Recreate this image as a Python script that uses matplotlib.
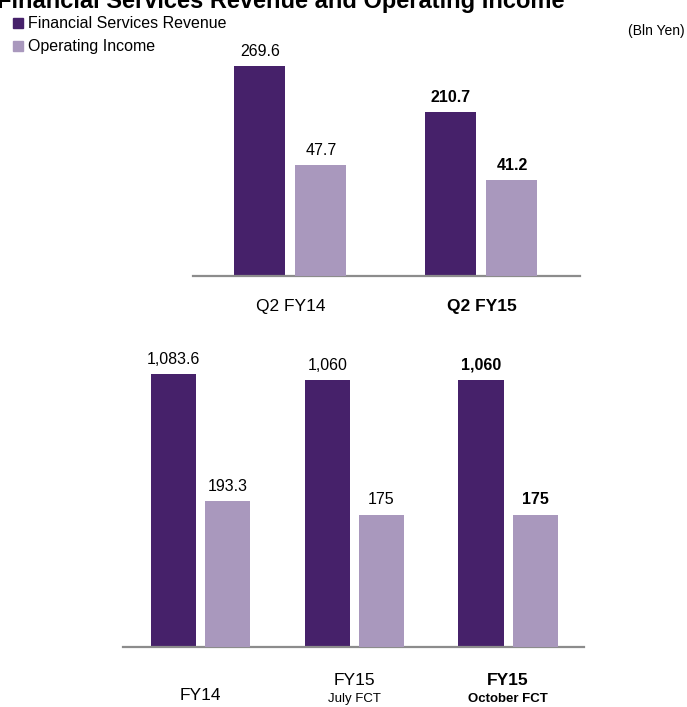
import numpy as np
import matplotlib
matplotlib.use("Agg")
import matplotlib.pyplot as plt

plt.rcParams['font.family'] = ['Liberation Sans', 'DejaVu Sans']

# quarterly figures (Bln Yen)
q_labels = ['Q2 FY14', 'Q2 FY15']
q_revenue = [269.6, 210.7]
q_income = [47.7, 41.2]
q_rev_text = ['269.6', '210.7']
q_inc_text = ['47.7', '41.2']
q_bold = [False, True]

# full-year figures (Bln Yen)
y_labels = ['FY14', 'FY15', 'FY15']
y_sublabels = ['', 'July FCT', 'October FCT']
y_revenue = [1083.6, 1060, 1060]
y_income = [193.3, 175, 175]
y_rev_text = ['1,083.6', '1,060', '1,060']
y_inc_text = ['193.3', '175', '175']
y_bold = [False, False, True]

dark = '#46216A'
light = '#A998BD'
line_col = '#8C8C8C'

W, H = 687, 707
fig = plt.figure(figsize=(W / 100, H / 100), dpi=100)


def px_axes(left, top, right, bottom):
    return fig.add_axes([left / W, 1 - bottom / H, (right - left) / W, (bottom - top) / H])


def bar_panel(ax, rev, inc, rev_txt, inc_txt, bold, off, width, rev_max, inc_max, xlim):
    x = np.arange(len(rev))
    ax2 = ax.twinx()
    ax.bar(x - off, rev, width, color=dark, zorder=2)
    ax2.bar(x + off, inc, width, color=light, zorder=2)
    ax.set_ylim(0, rev_max)
    ax2.set_ylim(0, inc_max)
    for a in (ax, ax2):
        a.set_xlim(*xlim)
        a.set_xticks([])
        a.set_yticks([])
        for s in a.spines.values():
            s.set_visible(False)
        a.patch.set_visible(False)
    ax.spines['bottom'].set_visible(True)
    ax.spines['bottom'].set_color(line_col)
    ax.spines['bottom'].set_linewidth(1.6)
    ax.spines['bottom'].set_zorder(5)
    for i in range(len(rev)):
        fw = 'bold' if bold[i] else 'normal'
        ax.annotate(rev_txt[i], (x[i] - off, rev[i]), xytext=(0, 7.5), textcoords='offset points',
                    ha='center', va='baseline', fontsize=11.5, fontweight=fw)
        ax2.annotate(inc_txt[i], (x[i] + off, inc[i]), xytext=(0, 7.5), textcoords='offset points',
                     ha='center', va='baseline', fontsize=11.5, fontweight=fw)
    return x


# top panel: quarter comparison
ax_q = px_axes(193, 40, 580, 276)
xq = bar_panel(ax_q, q_revenue, q_income, q_rev_text, q_inc_text, q_bold,
               0.16, 0.267, 303.3, 101.7, (-0.51, 1.516))
for i, lab in enumerate(q_labels):
    ax_q.annotate(lab, (xq[i], 0), xycoords=('data', 'axes fraction'), xytext=(0, -22),
                  textcoords='offset points', ha='center', va='center', fontsize=12.5,
                  fontweight='bold' if q_bold[i] else 'normal')

# bottom panel: full-year comparison
ax_y = px_axes(123, 340, 584, 647)
xy = bar_panel(ax_y, y_revenue, y_income, y_rev_text, y_inc_text, y_bold,
               0.176, 0.293, 1220.7, 406.6, (-0.504, 2.494))
for i, lab in enumerate(y_labels):
    fw = 'bold' if y_bold[i] else 'normal'
    if y_sublabels[i]:
        ax_y.annotate(lab, (xy[i], 0), xycoords=('data', 'axes fraction'), xytext=(0, -24),
                      textcoords='offset points', ha='center', va='center', fontsize=12.5, fontweight=fw)
        ax_y.annotate(y_sublabels[i], (xy[i], 0), xycoords=('data', 'axes fraction'), xytext=(0, -37.5),
                      textcoords='offset points', ha='center', va='center', fontsize=9.5, fontweight=fw)
    else:
        ax_y.annotate(lab, (xy[i], 0), xycoords=('data', 'axes fraction'), xytext=(0, -35),
                      textcoords='offset points', ha='center', va='center', fontsize=12.5, fontweight=fw)

# title (runs off the top edge)
fig.text(-0.004, 1 - 8 / H, 'Financial Services Revenue and Operating Income', ha='left', va='baseline',
         fontsize=17, fontweight='bold')

# legend
for k, (col, lab) in enumerate([(dark, 'Financial Services Revenue'), (light, 'Operating Income')]):
    yc = 23 + k * 23
    fig.patches.append(plt.Rectangle((13 / W, 1 - (yc + 5) / H), 10 / W, 10 / H,
                                     transform=fig.transFigure, color=col, figure=fig))
    fig.text(28 / W, 1 - yc / H, lab, ha='left', va='center', fontsize=11.5)

fig.text(685 / W, 1 - 31 / H, '(Bln Yen)', ha='right', va='center', fontsize=10)

fig.savefig('out.png', dpi=100)
